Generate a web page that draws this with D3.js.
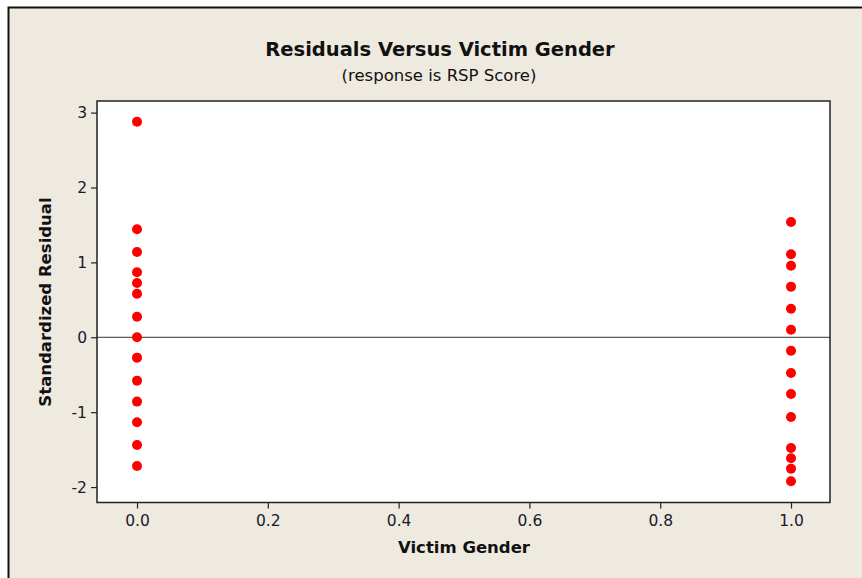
<!DOCTYPE html>
<html>
<head>
<meta charset="utf-8">
<script src="https://cdn.jsdelivr.net/npm/d3@7"></script>
<style>
  html, body { margin: 0; padding: 0; background: #ffffff; }
  svg { display: block; }
  text { font-family: "DejaVu Sans", Tahoma, sans-serif; }
</style>
</head>
<body>
<script>
// Standardized residuals by victim gender (0 / 1)
const gender0Residuals = [2.878, 1.442, 1.139, 0.868, 0.725, 0.582, 0.275, 0.0,
  -0.272, -0.579, -0.859, -1.135, -1.438, -1.718];
const gender1Residuals = [1.539, 1.108, 0.956, 0.676, 0.382, 0.101, -0.179, -0.477,
  -0.757, -1.064, -1.478, -1.615, -1.754, -1.923];
const xTicks = [0.0, 0.2, 0.4, 0.6, 0.8, 1.0];
const yTicks = [-2, -1, 0, 1, 2, 3];

const points = [
  ...gender0Residuals.map(r => ({ gender: 0, resid: r })),
  ...gender1Residuals.map(r => ({ gender: 1, resid: r }))
];

const W = 862, H = 578;
const svg = d3.select("body").append("svg").attr("width", W).attr("height", H);

// graph region background with frame on the left and top
svg.append("rect").attr("x", 8).attr("y", 7).attr("width", W - 8).attr("height", H - 7)
  .attr("fill", "#eeeae0");
svg.append("path").attr("d", `M8.5,${H} V7.5 H${W}`)
  .attr("fill", "none").attr("stroke", "#111").attr("stroke-width", 2);

const plot = { left: 97, right: 830, top: 101, bottom: 502.5 };

const x = d3.scaleLinear().domain([-0.0612, 1.0596]).range([plot.left, plot.right]);
const y = d3.scaleLinear().domain([-2.206, 3.155]).range([plot.bottom, plot.top]);

// data region
svg.append("rect")
  .attr("x", plot.left).attr("y", plot.top)
  .attr("width", plot.right - plot.left).attr("height", plot.bottom - plot.top)
  .attr("fill", "#ffffff");

// zero reference line
svg.append("line")
  .attr("x1", plot.left).attr("x2", plot.right)
  .attr("y1", y(0)).attr("y2", y(0))
  .attr("stroke", "#333").attr("stroke-width", 1);

// points
svg.append("g").selectAll("circle").data(points).join("circle")
  .attr("cx", d => x(d.gender))
  .attr("cy", d => y(d.resid))
  .attr("r", 5)
  .attr("fill", "#ff0000");

// frame of data region
svg.append("rect")
  .attr("x", plot.left).attr("y", plot.top)
  .attr("width", plot.right - plot.left).attr("height", plot.bottom - plot.top)
  .attr("fill", "none").attr("stroke", "#222").attr("stroke-width", 1.5);

// axes
const xAxis = d3.axisBottom(x).tickValues(xTicks).tickFormat(d3.format(".1f"))
  .tickSizeOuter(0).tickSizeInner(6).tickPadding(6);
const gx = svg.append("g").attr("transform", `translate(0,${plot.bottom})`).call(xAxis);
gx.select(".domain").remove();

const yAxis = d3.axisLeft(y).tickValues(yTicks).tickFormat(d => String(d))
  .tickSizeOuter(0).tickSizeInner(6).tickPadding(4);
const gy = svg.append("g").attr("transform", `translate(${plot.left},0)`).call(yAxis);
gy.select(".domain").remove();

[gx, gy].forEach(g => {
  g.selectAll(".tick line").attr("stroke", "#222").attr("stroke-width", 1.2);
  g.selectAll(".tick text").attr("fill", "#1a1a2a").style("font-size", "15.5px")
    .style("font-family", "'DejaVu Sans', Tahoma, sans-serif");
});

// titles
svg.append("text").attr("x", 440).attr("y", 56).attr("text-anchor", "middle")
  .style("font-size", "19.5px").style("font-weight", "bold").attr("fill", "#111")
  .text("Residuals Versus Victim Gender");
svg.append("text").attr("x", 439).attr("y", 81).attr("text-anchor", "middle")
  .style("font-size", "16.5px").attr("fill", "#111")
  .text("(response is RSP Score)");

svg.append("text").attr("x", 464).attr("y", 553).attr("text-anchor", "middle")
  .style("font-size", "16.5px").style("font-weight", "bold").attr("fill", "#111")
  .text("Victim Gender");

svg.append("text").attr("transform", "translate(51,302) rotate(-90)")
  .attr("text-anchor", "middle")
  .style("font-size", "16.5px").style("font-weight", "bold").attr("fill", "#111")
  .text("Standardized Residual");
</script>
</body>
</html>
